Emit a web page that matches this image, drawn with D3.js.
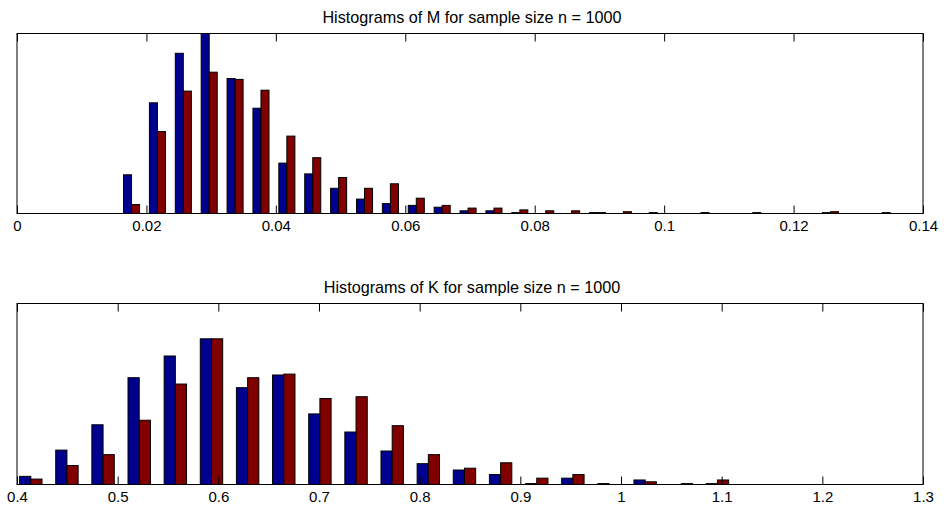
<!DOCTYPE html>
<html>
<head>
<meta charset="utf-8">
<script src="https://cdn.jsdelivr.net/npm/d3@7"></script>
<style>
  body { margin: 0; background: #fff; }
  svg text { font-family: "Liberation Sans", Arial, sans-serif; fill: #000; }
</style>
</head>
<body>
<svg id="chart" width="944" height="509"></svg>
<script>
// ---- data ----
// histogram of M : bin centres and counts for the two series
var mCenters = [0.0177, 0.0217, 0.0257, 0.0297, 0.0337, 0.0377, 0.0417, 0.0457, 0.0497, 0.0537,
                0.0577, 0.0617, 0.0657, 0.0697, 0.0737, 0.0777, 0.0817, 0.0857, 0.0897, 0.0937,
                0.0977, 0.1017, 0.1057, 0.1097, 0.1137, 0.1177, 0.1217, 0.1257, 0.1297, 0.1337];
var mBlue = [43, 123, 178, 200, 150, 117, 56, 44, 28, 16, 11, 9, 7, 3, 3, 1, 0, 0, 1, 0,
             0, 0, 0, 0, 0, 0, 0, 1, 0, 0];
var mRed  = [10, 91, 136, 157, 149, 137, 86, 62, 40, 28, 33, 17, 9, 6, 6, 4, 3, 3, 1, 2,
             1, 0, 1, 0, 1, 0, 0, 2, 0, 1];
var mTicks = [0, 0.02, 0.04, 0.06, 0.08, 0.1, 0.12, 0.14];

// histogram of K
var kCenters = [0.4137, 0.4496, 0.4855, 0.5214, 0.5573, 0.5932, 0.6291, 0.6650, 0.7009, 0.7368,
                0.7727, 0.8086, 0.8445, 0.8804, 0.9163, 0.9522, 0.9881, 1.0240, 1.0599, 1.0958];
var kBlue = [9, 38, 66, 118, 142, 161, 107, 121, 78, 58, 37, 23, 16, 11, 1, 7, 1, 5, 0, 1];
var kRed  = [6, 21, 33, 71, 111, 161, 118, 122, 95, 97, 65, 33, 18, 24, 7, 11, 0, 3, 1, 5];
var kTicks = [0.4, 0.5, 0.6, 0.7, 0.8, 0.9, 1, 1.1, 1.2, 1.3];

var svg = d3.select('#chart');

// Draw one framed histogram panel (MATLAB style grouped bars)
function Draw_Panel(opt) {
	var x = d3.scaleLinear().domain(opt.xDomain).range([17, 923]);
	var y = d3.scaleLinear().domain([0, 200]).range([opt.bottom, opt.top]);
	var binW = x(opt.centers[1]) - x(opt.centers[0]);
	var barW = binW * 0.31;

	var g = svg.append('g');

	var rows = opt.centers.map(function(c, i) { return {c: c, b: opt.blue[i], r: opt.red[i]}; });

	// blue series, left of the bin centre
	g.selectAll('rect.blue').data(rows).enter().append('rect')
		.attr('x', function(d) { return x(d.c) - barW; })
		.attr('y', function(d) { return y(d.b); })
		.attr('width', barW)
		.attr('height', function(d) { return y(0) - y(d.b); })
		.attr('fill', '#00008f').attr('stroke', '#000').attr('stroke-width', 1);

	// red series, right of the bin centre
	g.selectAll('rect.red').data(rows).enter().append('rect')
		.attr('x', function(d) { return x(d.c); })
		.attr('y', function(d) { return y(d.r); })
		.attr('width', barW)
		.attr('height', function(d) { return y(0) - y(d.r); })
		.attr('fill', '#800000').attr('stroke', '#000').attr('stroke-width', 1);

	// bottom axis, inward ticks
	var axB = d3.axisBottom(x).tickValues(opt.ticks).tickSize(-8).tickPadding(7)
		.tickFormat(function(v) { return String(+v.toFixed(4)); });
	var gb = g.append('g').attr('transform', 'translate(0,' + opt.bottom + ')').call(axB);
	gb.select('.domain').remove();
	gb.selectAll('text').attr('font-size', 15).attr('font-family', '"Liberation Sans", Arial, sans-serif');

	// top ticks
	var axT = d3.axisTop(x).tickValues(opt.ticks).tickSize(-8).tickFormat('');
	var gt = g.append('g').attr('transform', 'translate(0,' + opt.top + ')').call(axT);
	gt.select('.domain').remove();
	g.selectAll('.tick line').attr('stroke', '#000');

	// frame
	g.append('rect')
		.attr('x', x.range()[0]).attr('y', opt.top)
		.attr('width', x.range()[1] - x.range()[0]).attr('height', opt.bottom - opt.top)
		.attr('fill', 'none').attr('stroke', '#000').attr('stroke-width', 1);

	g.append('text')
		.attr('x', 472).attr('y', opt.top - 11)
		.attr('text-anchor', 'middle').attr('font-size', 16.2)
		.text(opt.title);
}

Draw_Panel({
	title: 'Histograms of M for sample size n = 1000',
	centers: mCenters, blue: mBlue, red: mRed, ticks: mTicks,
	xDomain: [0, 0.14], top: 33.5, bottom: 213.5
});

Draw_Panel({
	title: 'Histograms of K for sample size n = 1000',
	centers: kCenters, blue: kBlue, red: kRed, ticks: kTicks,
	xDomain: [0.4, 1.3], top: 303.5, bottom: 484.5
});
</script>
</body>
</html>
